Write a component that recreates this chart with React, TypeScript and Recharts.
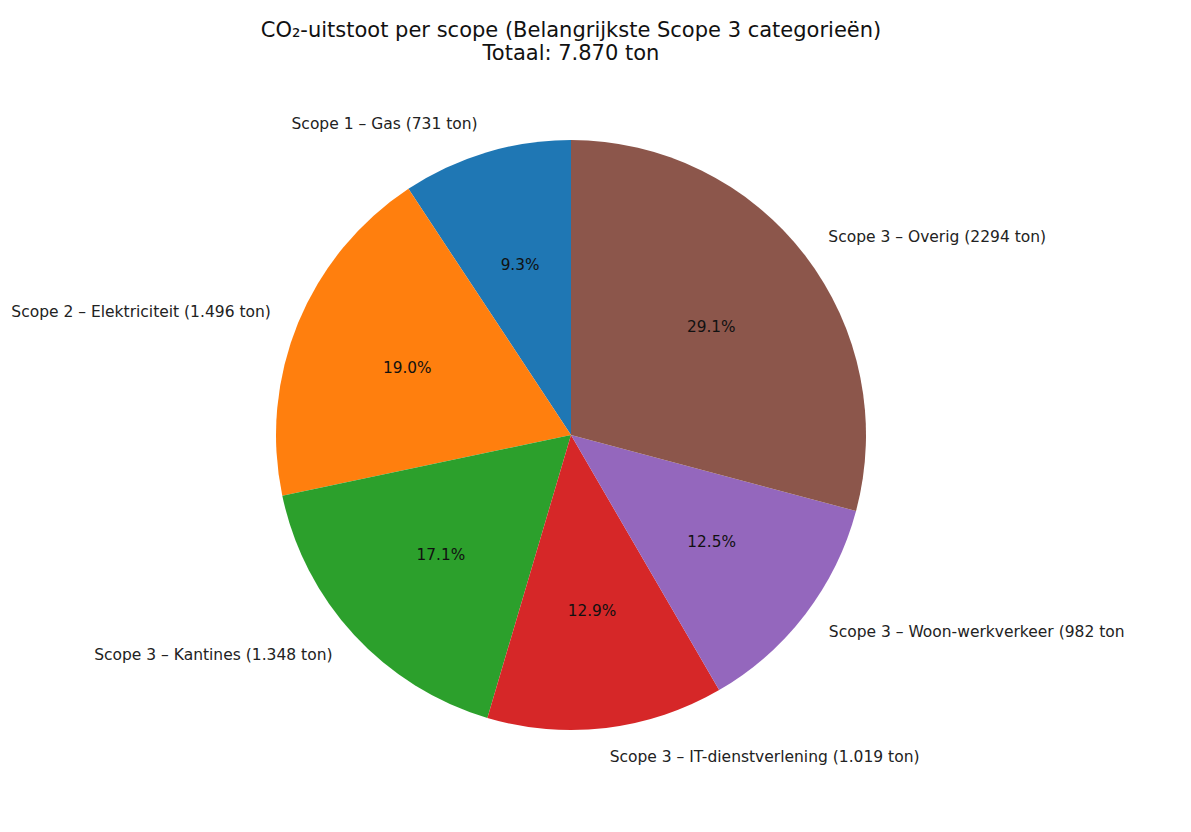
import React from 'react';
import { PieChart, Pie, Cell } from 'recharts';

const categories = [
  'Scope 1 – Gas (731 ton)',
  'Scope 2 – Elektriciteit (1.496 ton)',
  'Scope 3 – Kantines (1.348 ton)',
  'Scope 3 – IT-dienstverlening (1.019 ton)',
  'Scope 3 – Woon-werkverkeer (982 ton',
  'Scope 3 – Overig (2294 ton)',
];
const values = [731, 1496, 1348, 1019, 982, 2294];
const colors = ['#1f77b4', '#ff7f0e', '#2ca02c', '#d62728', '#9467bd', '#8c564b'];
const titleLines = ['CO₂-uitstoot per scope (Belangrijkste Scope 3 categorieën)', 'Totaal: 7.870 ton'];

const data = categories.map((name, i) => ({ name, value: values[i] }));

const FONT = '"DejaVu Sans", sans-serif';
const RAD = Math.PI / 180;

const renderLabel = (props: any) => {
  const { cx, cy, midAngle, outerRadius, percent, index } = props;
  const cos = Math.cos(-midAngle * RAD);
  const sin = Math.sin(-midAngle * RAD);
  const ox = cx + outerRadius * 1.1 * cos;
  const oy = cy + outerRadius * 1.1 * sin;
  const ix = cx + outerRadius * 0.6 * cos;
  const iy = cy + outerRadius * 0.6 * sin;
  return (
    <g key={`lbl-${index}`}>
      <text x={ox} y={oy} textAnchor={cos >= 0 ? 'start' : 'end'} dominantBaseline="central"
        fontFamily={FONT} fontSize={15.5} fill="#222">{categories[index]}</text>
      <text x={ix} y={iy} textAnchor="middle" dominantBaseline="central"
        fontFamily={FONT} fontSize={15.3} fill="#111">{(percent * 100).toFixed(1)}%</text>
    </g>
  );
};

export default function App() {
  return (
    <div style={{ position: 'relative', width: 1183, height: 816 }}>
      <div style={{ position: 'absolute', left: 0, top: 11, width: 1126, textAlign: 'center',
        fontFamily: FONT, fontSize: 21, lineHeight: '23px', color: '#111' }}>
        {titleLines.map((t) => <div key={t}>{t}</div>)}
      </div>
      <PieChart width={1183} height={816} style={{ position: 'absolute', left: 0, top: 0 }}>
        <Pie data={data} dataKey="value" nameKey="name" cx={558} cy={422} outerRadius={295}
          startAngle={90} endAngle={450} stroke="none" label={renderLabel} labelLine={false}
          isAnimationActive={false}>
          {data.map((d, i) => <Cell key={d.name} fill={colors[i]} />)}
        </Pie>
      </PieChart>
    </div>
  );
}
